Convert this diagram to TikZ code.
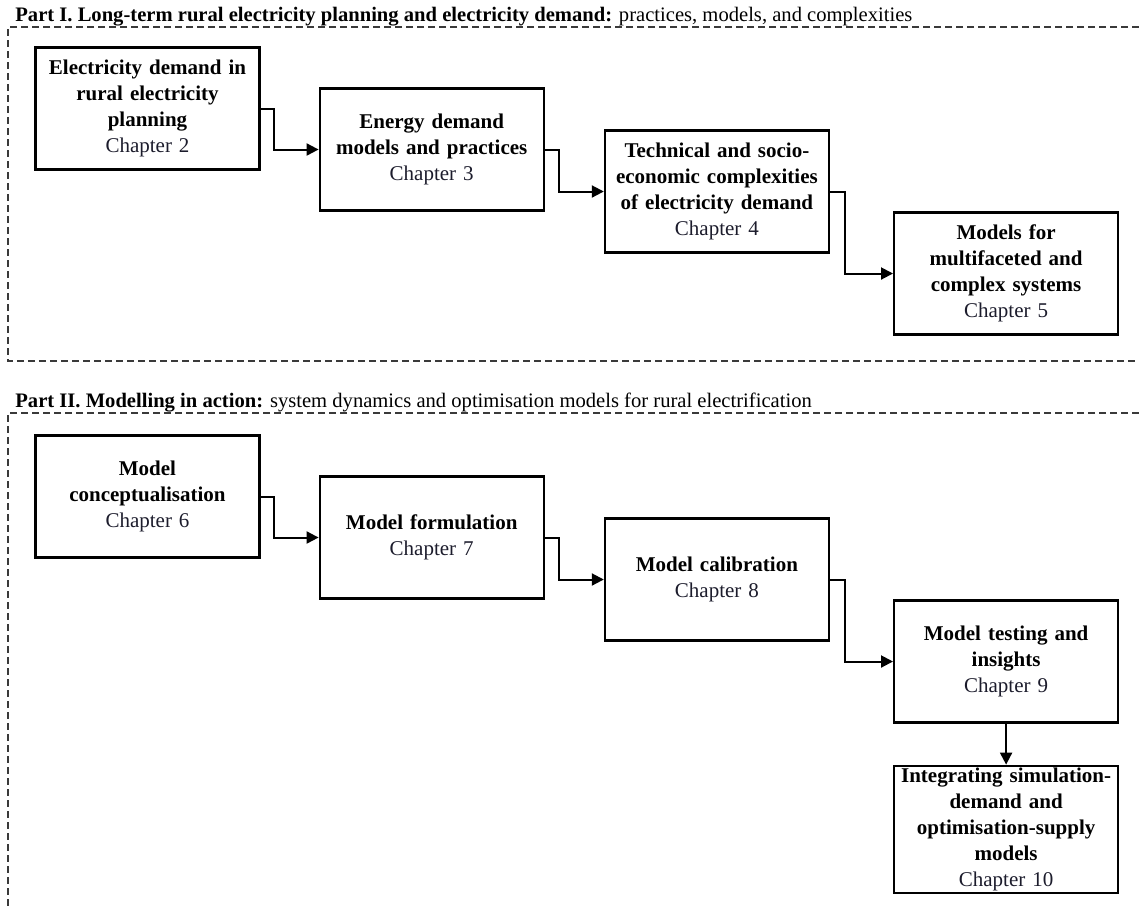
\documentclass[tikz,border=0pt]{standalone}
\usepackage{fontspec}
\setmainfont{Liberation Serif}
\usepackage{xcolor}
\definecolor{chaptext}{HTML}{1C1C2C}
\definecolor{framegray}{HTML}{3A3A3A}
\usetikzlibrary{positioning}
\usetikzlibrary{arrows.meta}
\tikzset{
chapter_box/.style={rectangle, draw, line width=1.1pt, minimum width=112pt, minimum height=61pt, text width=108pt, align=center, inner sep=1pt, font=\fontsize{10.5}{13}\selectfont},
flow/.style={line width=1pt, -{Triangle[length=6pt, width=6pt]}},
part_frame/.style={draw=framegray, dash pattern=on 3.5pt off 2pt, line width=0.7pt},
part_title/.style={anchor=base west, inner sep=0pt, font=\fontsize{10.3}{12}\selectfont}
}
\newcommand{\chapno}[1]{\\{\color{chaptext}Chapter #1}}

\begin{document}
\begin{tikzpicture}[x=0.5pt, y=-0.5pt]
    \useasboundingbox (0,0) rectangle (1139,907);
    % Part I
    \draw[part_frame] (1150,27) -- (8,27) -- (8,361) -- (1150,361);
    \node[part_title] (title_1) at (15,21) {\textbf{Part I. Long-term rural electricity planning and electricity demand:} practices, models, and complexities};
    \node[chapter_box] (ch_2) at (147.5,108.5) {\textbf{Electricity demand in\\rural electricity\\planning}\chapno{2}};
    \node[chapter_box] (ch_3) [right=29pt of ch_2, yshift=-20.5pt] {\textbf{Energy demand\\models and practices}\chapno{3}};
    \node[chapter_box] (ch_4) [right=29.5pt of ch_3, yshift=-21pt] {\textbf{Technical and socio-\\economic complexities\\of electricity demand}\chapno{4}};
    \node[chapter_box] (ch_5) [right=31.5pt of ch_4, yshift=-41pt] {\textbf{Models for\\multifaceted and\\complex systems}\chapno{5}};
    \draw[flow] (ch_2.east) -- ++(6.5pt,0) |- (ch_3.west);
    \draw[flow] (ch_3.east) -- ++(7pt,0) |- (ch_4.west);
    \draw[flow] (ch_4.east) -- ++(7.5pt,0) |- (ch_5.west);

    % Part II
    \draw[part_frame] (1150,413) -- (8,413) -- (8,920);
    \node[part_title] (title_2) at (15,407) {\textbf{Part II. Modelling in action:} system dynamics and optimisation models for rural electrification};
    \node[chapter_box] (ch_6) at (147.5,496.5) {\textbf{Model\\conceptualisation}\chapno{6}};
    \node[chapter_box] (ch_7) [right=29pt of ch_6, yshift=-20.5pt] {\textbf{Model formulation}\chapno{7}};
    \node[chapter_box] (ch_8) [right=29.5pt of ch_7, yshift=-21pt] {\textbf{Model calibration}\chapno{8}};
    \node[chapter_box] (ch_9) [right=31.5pt of ch_8, yshift=-41pt] {\textbf{Model testing and\\insights}\chapno{9}};
    \node[chapter_box] (ch_10) [below=20.5pt of ch_9] {\textbf{Integrating simulation-\\demand and\\optimisation-supply\\models}\chapno{10}};
    \draw[flow] (ch_6.east) -- ++(6.5pt,0) |- (ch_7.west);
    \draw[flow] (ch_7.east) -- ++(7pt,0) |- (ch_8.west);
    \draw[flow] (ch_8.east) -- ++(7.5pt,0) |- (ch_9.west);
    \draw[flow] (ch_9) -- (ch_10);
\end{tikzpicture}
\end{document}
